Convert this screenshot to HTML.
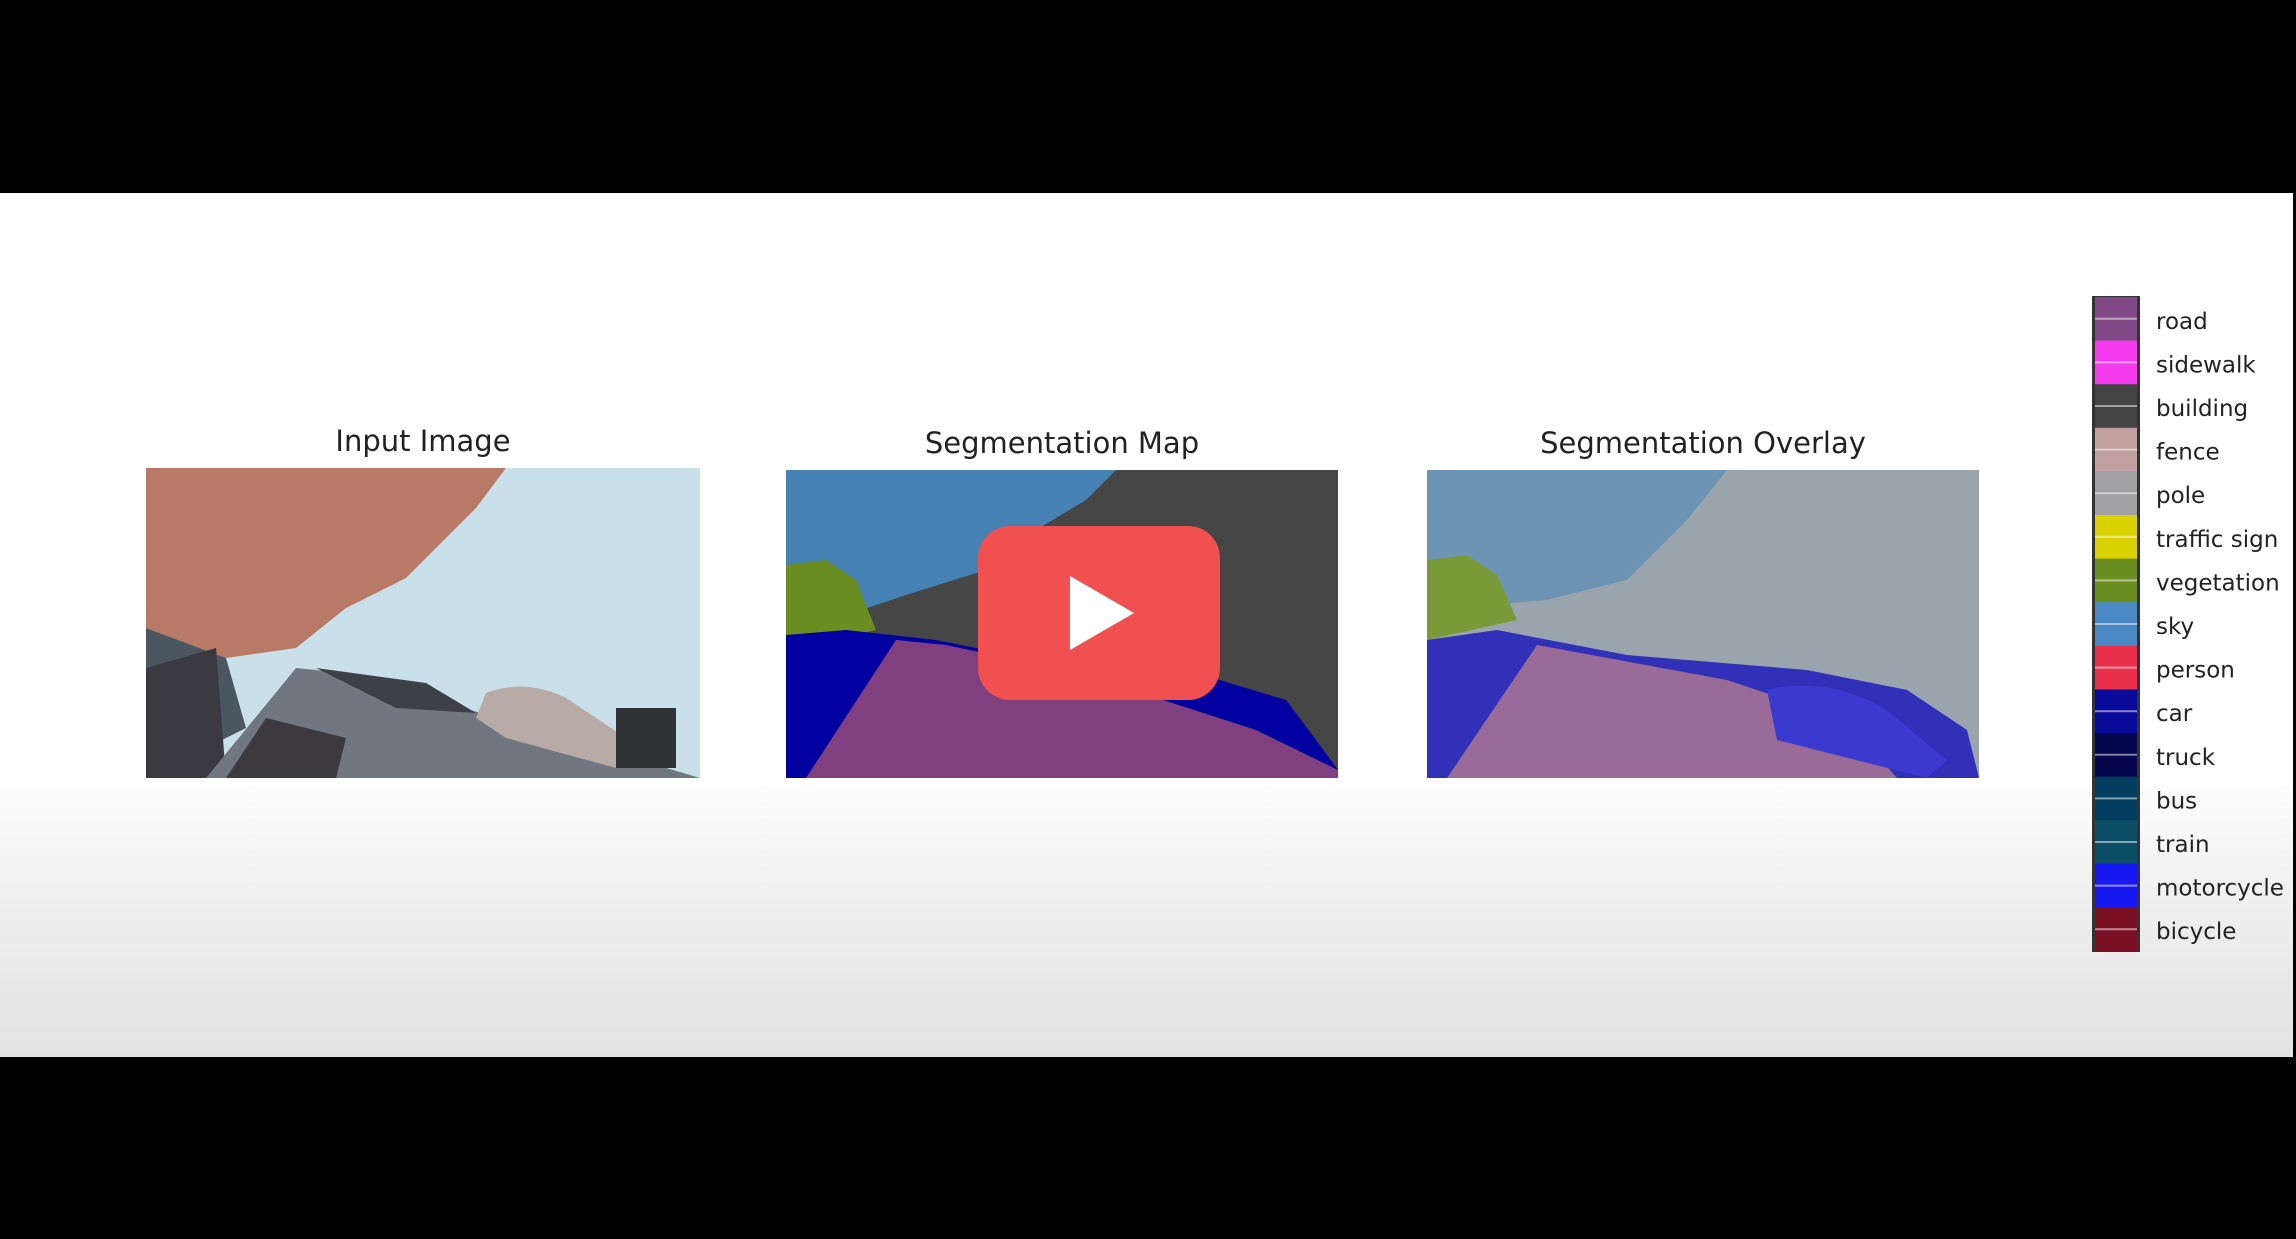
<!DOCTYPE html>
<html><head><meta charset="utf-8"><style>
body{margin:0;width:2296px;height:1239px;overflow:hidden;background:#000;font-family:"Liberation Sans","DejaVu Sans",sans-serif;}
#stage{position:absolute;left:0;top:193px;width:2293px;height:864px;background:linear-gradient(#fff 0,#fff 580px,#f0f0f0 700px,#e2e2e2 864px);}
.title{position:absolute;font-family:"DejaVu Sans",sans-serif;font-size:29px;color:#222;text-align:center;width:600px;}
svg.panel{position:absolute;}
</style></head><body>
<div id="stage"></div>
<div class="title" style="left:123px;top:424px">Input Image</div>
<div class="title" style="left:762px;top:426px">Segmentation Map</div>
<div class="title" style="left:1403px;top:426px">Segmentation Overlay</div>

<svg class="panel" style="left:146px;top:468px" width="554" height="310" viewBox="0 0 554 310">
<rect width="554" height="310" fill="#c9e0ea"/>
<path d="M0 0H360L330 40 260 110 200 140 150 180 80 190 0 160Z" fill="#b87a66"/>
<path d="M0 160L80 190 100 260 0 310Z" fill="#4a5760"/>
<path d="M0 200L70 180 80 310 0 310Z" fill="#3a3a40"/>
<path d="M60 310L150 200 200 205 554 310Z" fill="#707780"/>
<path d="M80 310L120 250 200 270 190 310Z" fill="#3c3a3e"/>
<path d="M170 200L280 215 330 245 250 240Z" fill="#3d4046"/>
<path d="M340 225Q380 210 420 230L480 270 470 300 360 270 330 250Z" fill="#b8aaa4"/>
<rect x="470" y="240" width="60" height="60" fill="#2f3336"/>
</svg>

<svg class="panel" style="left:786px;top:470px" width="552" height="308" viewBox="0 0 552 308">
<rect width="552" height="308" fill="#464646"/>
<path d="M0 0H330L300 30 250 60 220 80 200 100 120 125 60 145 0 150Z" fill="#4682b4"/>
<path d="M0 95L40 90 70 110 90 160 50 170 0 175Z" fill="#6b8e23"/>
<path d="M0 165L60 160 150 170 250 190 400 200 500 230 530 270 552 300V308H0Z" fill="#0000a0"/>
<path d="M20 308L110 170 160 175 300 205 470 260 552 300V308Z" fill="#804080"/>
</svg>

<svg class="panel" style="left:1427px;top:470px" width="552" height="308" viewBox="0 0 552 308">
<rect width="552" height="308" fill="#9aa4ac"/>
<path d="M0 0H300L260 50 200 110 120 130 0 140Z" fill="#6e94b4"/>
<path d="M0 90L40 85 70 105 90 150 0 170Z" fill="#7a9a3a"/>
<path d="M0 170L70 160 200 185 380 200 480 220 540 260 552 308H0Z" fill="#3030b8"/>
<path d="M20 308L110 175 300 210 420 250 470 308Z" fill="#9a6a98"/>
<path d="M340 220Q400 205 460 240L520 290 500 308 350 270Z" fill="#3a3ad0"/>
</svg>

<svg style="position:absolute;left:978px;top:526px" width="242" height="174">
<rect width="242" height="174" rx="32" fill="#f05050"/>
<polygon points="92,50 92,124 156,87" fill="#fff"/>
</svg>

<svg id="legend" style="position:absolute;left:2080px;top:280px" width="216" height="690"></svg>

<script>
const classNames=["road","sidewalk","building","fence","pole","traffic sign","vegetation","sky","person","car","truck","bus","train","motorcycle","bicycle"];
const classColors=["#814a87","#f43cee","#444444","#c2a0a0","#a0a0a4","#d9d100","#6b8e23","#4a88c4","#e8304a","#0a0a9a","#06064e","#033e60","#0b4e66","#1818f0","#7a1024"];
const ns="http://www.w3.org/2000/svg";
const lg=document.getElementById('legend');
const top0=17,bot=671,x0=13,w=46;
const step=(bot-top0)/classNames.length;
const frame=document.createElementNS(ns,'rect');


frame.setAttribute('x',x0-1);frame.setAttribute('y',top0-1);frame.setAttribute('width',w+2);frame.setAttribute('height',bot-top0+2);frame.setAttribute('fill','#333');
lg.appendChild(frame);
classNames.forEach((n,i)=>{
 const y=top0+i*step;
 const r=document.createElementNS(ns,'rect');
 
 
 r.setAttribute('x',x0+2);r.setAttribute('y',y);r.setAttribute('width',w-4);r.setAttribute('height',step+0.5);r.setAttribute('fill',classColors[i]);
 lg.appendChild(r);
 const l=document.createElementNS(ns,'line');
 
 
 l.setAttribute('x1',x0+2);l.setAttribute('x2',x0+w-2);l.setAttribute('y1',y+step/2);l.setAttribute('y2',y+step/2);l.setAttribute('stroke','rgba(255,255,255,0.5)');l.setAttribute('stroke-width','2');
 lg.appendChild(l);
 const t=document.createElementNS(ns,'text');
 
 
 t.setAttribute('x',76);t.setAttribute('y',y+step/2+10);t.setAttribute('font-size','23');t.setAttribute('fill','#222');t.setAttribute('font-family','DejaVu Sans, sans-serif');
 t.textContent=n;
 lg.appendChild(t);
});
</script>
</body></html>
